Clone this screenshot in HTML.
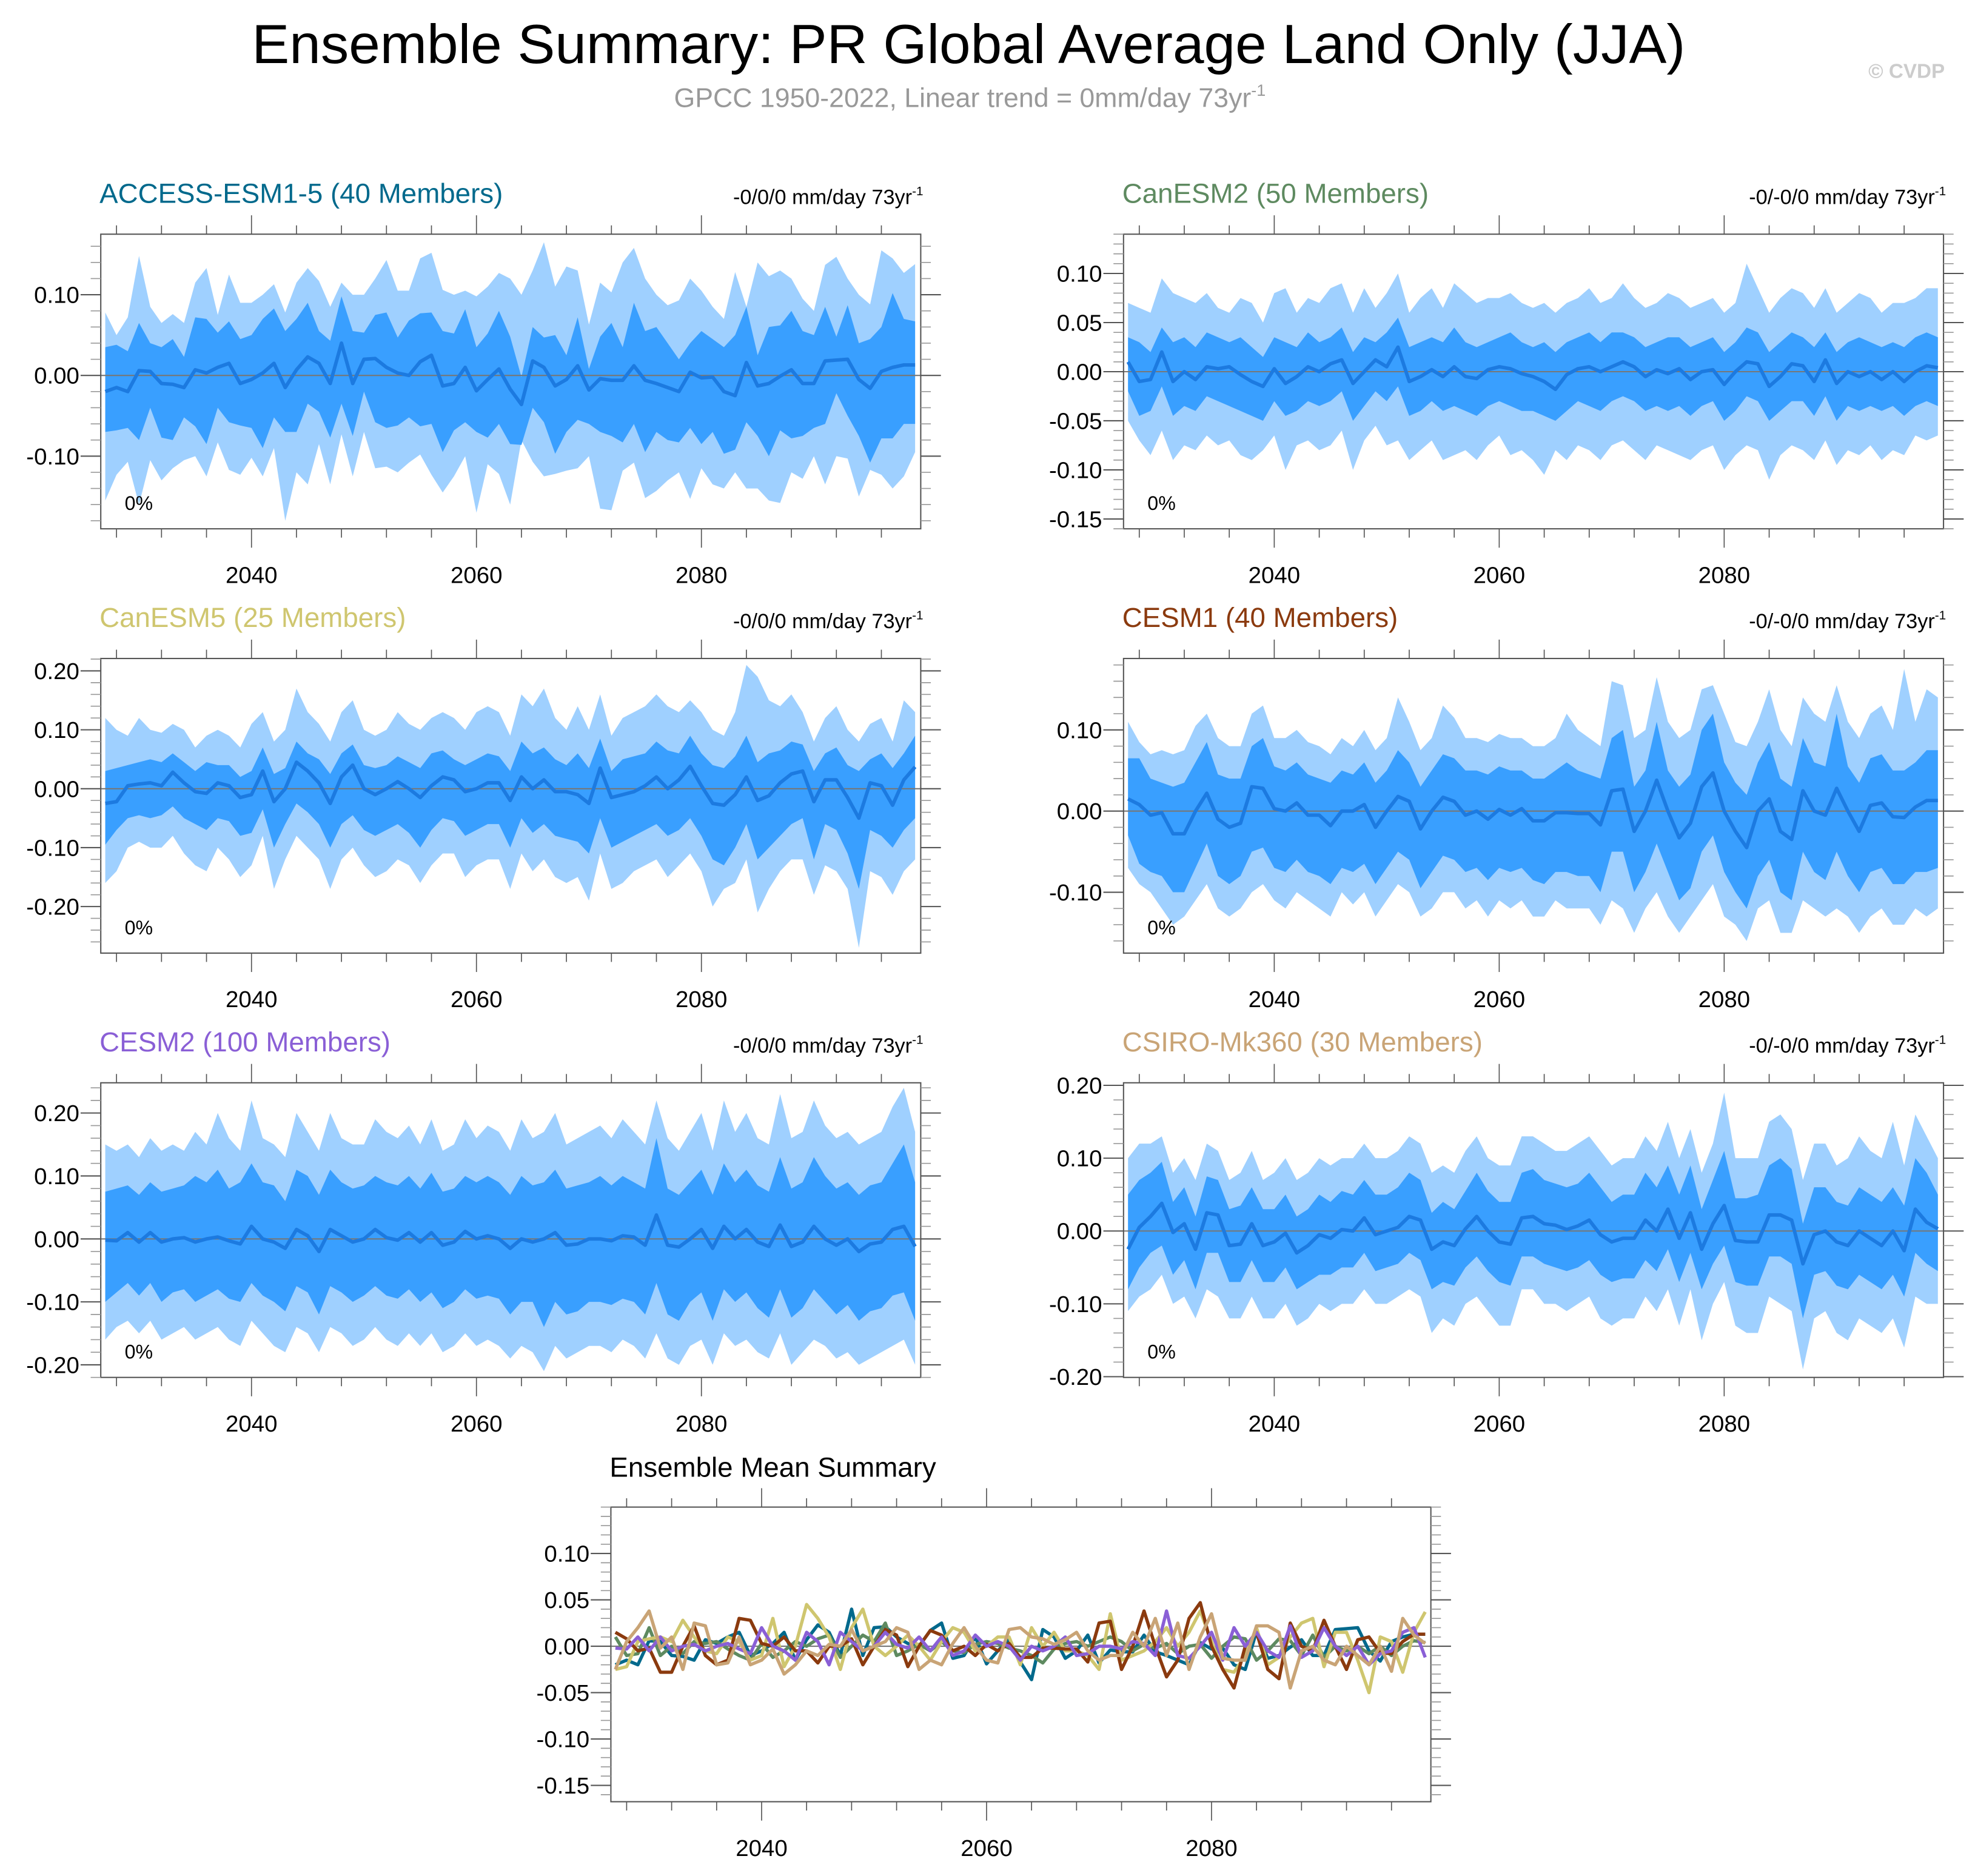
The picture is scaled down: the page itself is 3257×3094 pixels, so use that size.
<!DOCTYPE html>
<html><head><meta charset="utf-8"><style>
html,body{margin:0;padding:0;background:#fff;}
svg{display:block;font-family:"Liberation Sans",sans-serif;}
</style></head><body>
<svg id="chart" width="3257" height="3094" viewBox="0 0 1568 1490" preserveAspectRatio="none" xmlns="http://www.w3.org/2000/svg">
<text x="769" y="50" font-size="44" text-anchor="middle" fill="#000" textLength="1138" lengthAdjust="spacingAndGlyphs">Ensemble Summary: PR Global Average Land Only (JJA)</text>
<text x="770" y="85" font-size="21.5" text-anchor="middle" fill="#999">GPCC 1950-2022, Linear trend = 0mm/day 73yr<tspan dy="-9" font-size="13">-1</tspan></text>
<text x="1544" y="62" font-size="16" font-weight="bold" text-anchor="end" fill="#ccc">© CVDP</text>
<text x="484" y="1173" font-size="22" fill="#000">Ensemble Mean Summary</text>
</svg>
<script>
const years0 = 2027;
const accessMean=[-0.02,-0.015,-0.02,0.006,0.005,-0.01,-0.011,-0.015,0.007,0.003,0.01,0.015,-0.01,-0.005,0.003,0.015,-0.015,0.007,0.023,0.015,-0.01,0.04,-0.01,0.02,0.021,0.01,0.003,0,0.017,0.025,-0.013,-0.01,0.01,-0.019,-0.005,0.008,-0.017,-0.036,0.018,0.01,-0.013,-0.005,0.012,-0.018,-0.004,-0.006,-0.006,0.012,-0.006,-0.01,-0.015,-0.02,0.004,-0.003,-0.002,-0.02,-0.025,0.016,-0.013,-0.01,-0.001,0.007,-0.01,-0.01,0.018,0.019,0.02,-0.005,-0.016,0.005,0.01,0.013,0.013];
const accessInHi=[0.035,0.038,0.03,0.065,0.04,0.035,0.045,0.023,0.072,0.07,0.053,0.067,0.045,0.05,0.07,0.083,0.055,0.07,0.09,0.055,0.043,0.098,0.055,0.053,0.075,0.078,0.047,0.068,0.077,0.078,0.055,0.052,0.082,0.035,0.052,0.08,0.048,-0.002,0.06,0.047,0.05,0.025,0.072,0.008,0.048,0.065,0.035,0.09,0.055,0.06,0.04,0.02,0.04,0.055,0.045,0.035,0.05,0.085,0.025,0.06,0.062,0.08,0.055,0.05,0.085,0.048,0.087,0.04,0.045,0.06,0.102,0.07,0.067];
const accessInLo=[-0.07,-0.068,-0.065,-0.08,-0.04,-0.077,-0.08,-0.052,-0.063,-0.085,-0.04,-0.058,-0.062,-0.065,-0.09,-0.052,-0.07,-0.07,-0.035,-0.045,-0.077,-0.035,-0.075,-0.02,-0.058,-0.065,-0.062,-0.052,-0.063,-0.06,-0.095,-0.068,-0.058,-0.07,-0.077,-0.06,-0.085,-0.086,-0.04,-0.058,-0.097,-0.07,-0.055,-0.06,-0.07,-0.075,-0.083,-0.06,-0.095,-0.07,-0.08,-0.083,-0.065,-0.085,-0.07,-0.097,-0.092,-0.058,-0.075,-0.1,-0.068,-0.078,-0.075,-0.065,-0.06,-0.022,-0.05,-0.075,-0.108,-0.078,-0.078,-0.06,-0.06];
const accessOutHi=[0.078,0.05,0.072,0.148,0.085,0.065,0.076,0.065,0.115,0.133,0.075,0.125,0.09,0.09,0.1,0.113,0.078,0.115,0.133,0.117,0.085,0.115,0.1,0.1,0.12,0.143,0.105,0.105,0.145,0.152,0.106,0.1,0.105,0.098,0.11,0.127,0.12,0.1,0.13,0.165,0.11,0.135,0.13,0.063,0.115,0.103,0.14,0.158,0.12,0.1,0.087,0.093,0.12,0.105,0.085,0.07,0.128,0.085,0.14,0.123,0.13,0.12,0.095,0.08,0.137,0.147,0.12,0.1,0.088,0.155,0.145,0.127,0.138];
const accessOutLo=[-0.155,-0.123,-0.107,-0.16,-0.105,-0.13,-0.115,-0.105,-0.1,-0.125,-0.083,-0.117,-0.123,-0.102,-0.125,-0.09,-0.18,-0.12,-0.135,-0.085,-0.135,-0.073,-0.125,-0.07,-0.115,-0.113,-0.12,-0.108,-0.098,-0.123,-0.145,-0.125,-0.1,-0.17,-0.11,-0.122,-0.16,-0.08,-0.107,-0.125,-0.122,-0.118,-0.115,-0.1,-0.165,-0.167,-0.118,-0.108,-0.152,-0.143,-0.13,-0.12,-0.153,-0.115,-0.135,-0.14,-0.12,-0.14,-0.14,-0.155,-0.158,-0.12,-0.128,-0.1,-0.135,-0.1,-0.103,-0.15,-0.117,-0.123,-0.14,-0.125,-0.095];

const can2Mean=[0.01,-0.01,-0.008,0.02,-0.01,0.0,-0.008,0.005,0.003,0.005,-0.003,-0.01,-0.015,0.003,-0.012,-0.005,0.005,0.0,0.008,0.012,-0.012,0.0,0.012,0.005,0.025,-0.01,-0.005,0.002,-0.005,0.005,-0.005,-0.007,0.002,0.005,0.003,-0.002,-0.005,-0.01,-0.018,-0.003,0.003,0.005,0.0,0.005,0.01,0.005,-0.005,0.002,-0.002,0.003,-0.008,0.0,0.002,-0.013,0.0,0.01,0.008,-0.015,-0.005,0.008,0.006,-0.01,0.012,-0.012,0.0,-0.005,0.0,-0.008,0.0,-0.01,0.0,0.006,0.004];
const can2InHi=[0.035,0.03,0.02,0.045,0.03,0.035,0.025,0.04,0.035,0.03,0.035,0.025,0.015,0.035,0.03,0.025,0.04,0.03,0.035,0.045,0.02,0.035,0.03,0.04,0.055,0.025,0.03,0.035,0.03,0.045,0.03,0.025,0.03,0.035,0.04,0.03,0.025,0.03,0.02,0.03,0.035,0.04,0.03,0.04,0.04,0.035,0.025,0.03,0.035,0.035,0.025,0.03,0.035,0.02,0.03,0.045,0.04,0.02,0.03,0.04,0.035,0.025,0.04,0.02,0.03,0.035,0.03,0.025,0.03,0.025,0.035,0.04,0.035];
const can2InLo=[-0.02,-0.045,-0.04,-0.015,-0.045,-0.035,-0.04,-0.025,-0.03,-0.035,-0.04,-0.045,-0.05,-0.03,-0.045,-0.04,-0.03,-0.035,-0.03,-0.02,-0.05,-0.035,-0.02,-0.03,-0.015,-0.045,-0.04,-0.03,-0.04,-0.035,-0.04,-0.045,-0.035,-0.03,-0.035,-0.04,-0.04,-0.045,-0.05,-0.04,-0.03,-0.035,-0.04,-0.03,-0.025,-0.03,-0.04,-0.035,-0.04,-0.035,-0.045,-0.035,-0.03,-0.05,-0.04,-0.025,-0.03,-0.05,-0.04,-0.03,-0.03,-0.045,-0.025,-0.05,-0.035,-0.04,-0.035,-0.04,-0.035,-0.045,-0.035,-0.03,-0.035];
const can2OutHi=[0.07,0.065,0.06,0.095,0.08,0.075,0.07,0.08,0.065,0.06,0.075,0.07,0.05,0.08,0.085,0.06,0.075,0.07,0.085,0.09,0.06,0.085,0.065,0.08,0.1,0.06,0.075,0.085,0.065,0.09,0.08,0.07,0.075,0.075,0.08,0.07,0.065,0.07,0.06,0.07,0.075,0.085,0.07,0.075,0.09,0.075,0.065,0.07,0.08,0.075,0.065,0.07,0.075,0.06,0.07,0.11,0.085,0.06,0.075,0.085,0.08,0.065,0.085,0.06,0.07,0.08,0.075,0.06,0.07,0.07,0.075,0.085,0.085];
const can2OutLo=[-0.05,-0.07,-0.085,-0.06,-0.09,-0.075,-0.08,-0.065,-0.075,-0.07,-0.085,-0.09,-0.08,-0.065,-0.1,-0.075,-0.07,-0.08,-0.075,-0.06,-0.1,-0.07,-0.055,-0.075,-0.07,-0.09,-0.08,-0.07,-0.09,-0.085,-0.08,-0.09,-0.075,-0.065,-0.085,-0.08,-0.09,-0.105,-0.08,-0.09,-0.075,-0.08,-0.09,-0.075,-0.07,-0.08,-0.09,-0.075,-0.08,-0.085,-0.09,-0.08,-0.075,-0.1,-0.085,-0.075,-0.08,-0.11,-0.085,-0.075,-0.08,-0.09,-0.07,-0.095,-0.08,-0.085,-0.075,-0.09,-0.08,-0.085,-0.065,-0.07,-0.065];

const can5Mean=[-0.025,-0.022,0.005,0.008,0.01,0.005,0.028,0.01,-0.005,-0.008,0.01,0.005,-0.015,-0.01,0.03,-0.022,0.0,0.045,0.03,0.01,-0.025,0.02,0.04,0.0,-0.01,0.0,0.012,0.0,-0.015,0.005,0.02,0.015,-0.005,0.0,0.01,0.01,-0.02,0.02,0.0,0.015,-0.005,-0.005,-0.01,-0.025,0.035,-0.015,-0.01,-0.005,0.005,0.02,0.0,0.015,0.038,0.005,-0.025,-0.028,-0.01,0.02,-0.02,-0.012,0.01,0.025,0.03,-0.022,0.015,0.015,-0.015,-0.05,0.01,0.005,-0.028,0.015,0.037];
const can5InHi=[0.03,0.035,0.04,0.045,0.05,0.045,0.06,0.045,0.03,0.045,0.04,0.04,0.02,0.03,0.07,0.025,0.035,0.08,0.06,0.05,0.025,0.06,0.075,0.04,0.035,0.04,0.055,0.045,0.035,0.06,0.065,0.05,0.04,0.05,0.06,0.055,0.03,0.08,0.06,0.07,0.05,0.04,0.06,0.035,0.085,0.03,0.05,0.055,0.06,0.08,0.065,0.06,0.09,0.06,0.04,0.035,0.055,0.09,0.045,0.06,0.065,0.08,0.075,0.03,0.06,0.07,0.04,0.03,0.05,0.06,0.035,0.06,0.09];
const can5InLo=[-0.095,-0.07,-0.05,-0.045,-0.05,-0.045,-0.03,-0.05,-0.06,-0.07,-0.05,-0.055,-0.08,-0.075,-0.035,-0.1,-0.06,-0.025,-0.04,-0.06,-0.1,-0.06,-0.045,-0.07,-0.08,-0.07,-0.06,-0.075,-0.1,-0.07,-0.05,-0.055,-0.08,-0.07,-0.06,-0.06,-0.1,-0.05,-0.075,-0.06,-0.08,-0.085,-0.09,-0.11,-0.05,-0.1,-0.09,-0.08,-0.07,-0.06,-0.08,-0.07,-0.05,-0.08,-0.12,-0.13,-0.1,-0.06,-0.12,-0.1,-0.08,-0.06,-0.05,-0.12,-0.06,-0.07,-0.11,-0.17,-0.07,-0.08,-0.1,-0.07,-0.05];
const can5OutHi=[0.12,0.1,0.09,0.12,0.1,0.095,0.11,0.1,0.07,0.09,0.1,0.09,0.07,0.11,0.13,0.08,0.1,0.17,0.13,0.11,0.08,0.13,0.15,0.1,0.09,0.1,0.13,0.11,0.1,0.12,0.13,0.12,0.1,0.13,0.14,0.13,0.09,0.16,0.14,0.17,0.12,0.1,0.14,0.1,0.16,0.09,0.12,0.13,0.14,0.16,0.14,0.13,0.15,0.13,0.1,0.09,0.13,0.21,0.19,0.15,0.14,0.16,0.13,0.08,0.12,0.14,0.1,0.08,0.11,0.12,0.08,0.15,0.13];
const can5OutLo=[-0.16,-0.14,-0.1,-0.09,-0.1,-0.1,-0.08,-0.11,-0.13,-0.14,-0.1,-0.12,-0.15,-0.13,-0.08,-0.17,-0.12,-0.08,-0.1,-0.12,-0.17,-0.12,-0.1,-0.13,-0.15,-0.14,-0.12,-0.13,-0.16,-0.13,-0.11,-0.11,-0.15,-0.13,-0.12,-0.12,-0.17,-0.11,-0.14,-0.12,-0.15,-0.16,-0.15,-0.19,-0.11,-0.17,-0.16,-0.14,-0.13,-0.12,-0.15,-0.13,-0.11,-0.14,-0.2,-0.17,-0.16,-0.12,-0.21,-0.17,-0.14,-0.12,-0.12,-0.18,-0.13,-0.14,-0.17,-0.27,-0.14,-0.15,-0.18,-0.14,-0.12];

const cesm1Mean=[0.015,0.008,-0.005,-0.002,-0.028,-0.028,0.0,0.022,-0.01,-0.02,-0.015,0.03,0.028,0.003,0.0,0.01,-0.005,-0.005,-0.018,0.0,0.0,0.008,-0.02,0.0,0.018,0.012,-0.022,0.0,0.017,0.012,-0.005,0.0,-0.01,0.002,-0.005,0.003,-0.012,-0.012,-0.002,-0.002,-0.003,-0.003,-0.017,0.025,0.027,-0.025,0.0,0.038,0.0,-0.033,-0.015,0.03,0.047,0.0,-0.025,-0.045,0.0,0.015,-0.025,-0.035,0.025,0.0,-0.005,0.028,0.0,-0.025,0.007,0.01,-0.007,-0.008,0.005,0.013,0.013];
const cesm1InHi=[0.065,0.065,0.04,0.035,0.03,0.035,0.06,0.085,0.045,0.04,0.04,0.08,0.09,0.055,0.05,0.06,0.045,0.04,0.035,0.05,0.045,0.06,0.035,0.05,0.075,0.06,0.03,0.05,0.07,0.065,0.05,0.05,0.045,0.055,0.05,0.05,0.04,0.04,0.05,0.06,0.05,0.045,0.04,0.09,0.1,0.03,0.05,0.11,0.05,0.03,0.045,0.1,0.12,0.06,0.035,0.02,0.06,0.085,0.04,0.03,0.09,0.06,0.055,0.12,0.055,0.035,0.065,0.07,0.05,0.05,0.06,0.075,0.075];
const cesm1InLo=[-0.03,-0.065,-0.075,-0.08,-0.1,-0.1,-0.07,-0.04,-0.08,-0.09,-0.08,-0.05,-0.045,-0.07,-0.075,-0.06,-0.075,-0.08,-0.09,-0.07,-0.075,-0.065,-0.09,-0.07,-0.05,-0.06,-0.095,-0.075,-0.055,-0.06,-0.075,-0.07,-0.085,-0.07,-0.075,-0.07,-0.085,-0.09,-0.075,-0.075,-0.08,-0.08,-0.1,-0.05,-0.05,-0.1,-0.075,-0.04,-0.075,-0.11,-0.095,-0.05,-0.03,-0.075,-0.1,-0.12,-0.08,-0.06,-0.1,-0.11,-0.05,-0.075,-0.085,-0.05,-0.08,-0.1,-0.075,-0.07,-0.09,-0.09,-0.075,-0.075,-0.07];
const cesm1OutHi=[0.11,0.085,0.07,0.075,0.07,0.075,0.105,0.12,0.09,0.08,0.08,0.12,0.13,0.09,0.09,0.1,0.085,0.08,0.07,0.09,0.08,0.1,0.075,0.09,0.14,0.11,0.075,0.09,0.13,0.115,0.09,0.09,0.085,0.095,0.09,0.09,0.08,0.08,0.09,0.12,0.1,0.09,0.08,0.16,0.155,0.09,0.1,0.165,0.11,0.09,0.1,0.15,0.155,0.12,0.085,0.08,0.11,0.15,0.1,0.08,0.14,0.12,0.11,0.155,0.11,0.09,0.12,0.13,0.1,0.175,0.11,0.15,0.14];
const cesm1OutLo=[-0.07,-0.09,-0.1,-0.12,-0.14,-0.13,-0.11,-0.09,-0.12,-0.13,-0.12,-0.1,-0.09,-0.11,-0.12,-0.1,-0.11,-0.12,-0.13,-0.1,-0.115,-0.1,-0.13,-0.11,-0.09,-0.1,-0.13,-0.12,-0.1,-0.1,-0.12,-0.11,-0.13,-0.11,-0.12,-0.11,-0.13,-0.13,-0.11,-0.12,-0.12,-0.12,-0.14,-0.11,-0.12,-0.15,-0.12,-0.1,-0.13,-0.15,-0.13,-0.11,-0.09,-0.13,-0.14,-0.16,-0.12,-0.11,-0.15,-0.15,-0.11,-0.12,-0.13,-0.12,-0.13,-0.15,-0.13,-0.12,-0.14,-0.14,-0.12,-0.13,-0.12];

const cesm2Mean=[-0.002,-0.003,0.01,-0.005,0.01,-0.005,0.0,0.002,-0.005,0.0,0.003,-0.003,-0.008,0.02,0.0,-0.005,-0.015,0.015,0.005,-0.02,0.015,0.005,-0.005,0.0,0.015,0.002,-0.002,0.01,-0.005,0.01,-0.01,-0.005,0.012,0.0,0.005,0.0,-0.015,0.0,-0.005,0.0,0.01,-0.01,-0.008,0.0,0.0,-0.003,0.005,0.003,-0.01,0.038,-0.01,-0.013,0.0,0.015,-0.015,0.02,0.0,0.015,-0.005,-0.012,0.022,-0.012,-0.005,0.02,0.0,-0.01,0.0,-0.02,-0.008,-0.005,0.015,0.02,-0.012];
const cesm2InHi=[0.075,0.08,0.085,0.07,0.09,0.075,0.08,0.085,0.1,0.09,0.11,0.08,0.09,0.12,0.09,0.085,0.06,0.11,0.1,0.07,0.11,0.09,0.08,0.085,0.1,0.09,0.085,0.1,0.08,0.105,0.075,0.08,0.1,0.09,0.1,0.09,0.07,0.1,0.085,0.09,0.11,0.08,0.085,0.09,0.1,0.085,0.1,0.09,0.08,0.16,0.08,0.07,0.09,0.11,0.07,0.12,0.09,0.11,0.085,0.075,0.13,0.08,0.09,0.13,0.1,0.08,0.09,0.07,0.085,0.09,0.12,0.15,0.09];
const cesm2InLo=[-0.1,-0.085,-0.07,-0.09,-0.07,-0.1,-0.085,-0.08,-0.1,-0.09,-0.08,-0.095,-0.1,-0.07,-0.09,-0.1,-0.115,-0.075,-0.085,-0.12,-0.075,-0.085,-0.1,-0.09,-0.075,-0.09,-0.095,-0.08,-0.1,-0.085,-0.11,-0.1,-0.08,-0.095,-0.09,-0.095,-0.12,-0.1,-0.1,-0.14,-0.1,-0.12,-0.115,-0.1,-0.1,-0.105,-0.095,-0.1,-0.12,-0.07,-0.12,-0.13,-0.1,-0.085,-0.13,-0.08,-0.1,-0.085,-0.11,-0.125,-0.08,-0.125,-0.11,-0.08,-0.1,-0.12,-0.105,-0.13,-0.115,-0.11,-0.09,-0.085,-0.13];
const cesm2OutHi=[0.15,0.14,0.15,0.13,0.16,0.14,0.15,0.14,0.17,0.15,0.2,0.16,0.14,0.22,0.16,0.15,0.13,0.2,0.17,0.14,0.2,0.16,0.15,0.15,0.19,0.17,0.16,0.18,0.15,0.19,0.14,0.15,0.19,0.16,0.18,0.17,0.14,0.19,0.16,0.17,0.2,0.15,0.16,0.17,0.18,0.16,0.19,0.17,0.15,0.22,0.16,0.14,0.17,0.2,0.14,0.22,0.17,0.2,0.16,0.15,0.23,0.16,0.17,0.22,0.18,0.16,0.17,0.15,0.16,0.17,0.21,0.24,0.17];
const cesm2OutLo=[-0.16,-0.14,-0.13,-0.15,-0.13,-0.16,-0.15,-0.14,-0.16,-0.15,-0.14,-0.16,-0.17,-0.13,-0.15,-0.17,-0.18,-0.14,-0.15,-0.18,-0.14,-0.15,-0.17,-0.16,-0.14,-0.16,-0.17,-0.15,-0.17,-0.15,-0.18,-0.17,-0.15,-0.17,-0.16,-0.17,-0.19,-0.17,-0.18,-0.21,-0.17,-0.19,-0.18,-0.17,-0.17,-0.18,-0.16,-0.17,-0.19,-0.15,-0.19,-0.2,-0.17,-0.16,-0.2,-0.15,-0.17,-0.16,-0.18,-0.19,-0.15,-0.2,-0.18,-0.16,-0.17,-0.19,-0.18,-0.2,-0.19,-0.18,-0.17,-0.16,-0.2];

const csiroMean=[-0.025,0.005,0.02,0.038,-0.002,0.01,-0.025,0.025,0.022,-0.02,-0.018,0.01,-0.02,-0.015,-0.003,-0.03,-0.02,-0.005,-0.01,0.002,0.0,0.018,-0.005,0.0,0.005,0.02,0.015,-0.025,-0.015,-0.02,0.003,0.02,0.0,-0.015,-0.018,0.018,0.02,0.01,0.008,0.002,0.007,0.015,-0.005,-0.015,-0.01,-0.01,0.015,0.0,0.03,-0.01,0.025,-0.025,0.01,0.035,-0.013,-0.015,-0.015,0.022,0.022,0.015,-0.045,-0.005,0.0,-0.015,-0.02,0.0,-0.01,-0.02,0.0,-0.027,0.03,0.012,0.003];
const csiroInHi=[0.05,0.07,0.08,0.095,0.04,0.06,0.02,0.075,0.07,0.03,0.035,0.06,0.03,0.03,0.05,0.02,0.03,0.05,0.04,0.055,0.05,0.07,0.05,0.05,0.06,0.08,0.07,0.025,0.04,0.03,0.055,0.08,0.055,0.04,0.04,0.08,0.085,0.07,0.065,0.06,0.065,0.08,0.06,0.04,0.05,0.05,0.08,0.06,0.09,0.05,0.09,0.03,0.07,0.11,0.045,0.045,0.05,0.09,0.1,0.085,0.01,0.06,0.06,0.04,0.035,0.06,0.05,0.04,0.06,0.035,0.1,0.08,0.05];
const csiroInLo=[-0.08,-0.05,-0.03,-0.02,-0.06,-0.04,-0.08,-0.03,-0.03,-0.07,-0.07,-0.04,-0.07,-0.07,-0.05,-0.08,-0.07,-0.06,-0.06,-0.05,-0.05,-0.03,-0.055,-0.05,-0.045,-0.03,-0.04,-0.08,-0.07,-0.075,-0.05,-0.035,-0.055,-0.07,-0.075,-0.035,-0.035,-0.045,-0.05,-0.055,-0.05,-0.04,-0.06,-0.07,-0.065,-0.065,-0.04,-0.055,-0.025,-0.07,-0.03,-0.08,-0.045,-0.02,-0.07,-0.075,-0.075,-0.035,-0.035,-0.045,-0.12,-0.06,-0.055,-0.075,-0.08,-0.06,-0.07,-0.08,-0.06,-0.09,-0.03,-0.045,-0.055];
const csiroOutHi=[0.1,0.12,0.12,0.13,0.08,0.1,0.07,0.12,0.11,0.07,0.08,0.11,0.07,0.08,0.1,0.07,0.08,0.1,0.09,0.1,0.1,0.12,0.1,0.1,0.11,0.13,0.12,0.08,0.09,0.08,0.11,0.13,0.1,0.09,0.09,0.13,0.13,0.12,0.11,0.11,0.12,0.13,0.11,0.09,0.1,0.1,0.13,0.11,0.15,0.1,0.14,0.08,0.12,0.19,0.1,0.1,0.1,0.15,0.16,0.14,0.07,0.12,0.12,0.09,0.1,0.13,0.11,0.1,0.15,0.09,0.16,0.13,0.1];
const csiroOutLo=[-0.11,-0.09,-0.08,-0.06,-0.1,-0.09,-0.12,-0.08,-0.09,-0.12,-0.12,-0.09,-0.12,-0.12,-0.1,-0.13,-0.12,-0.1,-0.11,-0.1,-0.1,-0.08,-0.1,-0.1,-0.09,-0.08,-0.09,-0.14,-0.12,-0.13,-0.1,-0.09,-0.11,-0.13,-0.13,-0.08,-0.08,-0.1,-0.1,-0.11,-0.1,-0.09,-0.12,-0.13,-0.12,-0.12,-0.09,-0.11,-0.08,-0.13,-0.08,-0.15,-0.1,-0.07,-0.13,-0.14,-0.14,-0.09,-0.1,-0.11,-0.19,-0.12,-0.11,-0.14,-0.15,-0.12,-0.13,-0.14,-0.12,-0.16,-0.09,-0.1,-0.1];

const NS='http://www.w3.org/2000/svg';
const svg=document.getElementById('chart');
const XMIN=2026.6, XMAX=2099.5, W=651, H=234;
function mk(tag,attrs,parent){const e=document.createElementNS(NS,tag);for(const k in attrs)e.setAttribute(k,attrs[k]);(parent||svg).appendChild(e);return e;}

const panels=[
 {key:'access-esm1-5',title:'ACCESS-ESM1-5 (40 Members)',color:'#00698c',x0:80,y0:186,ymin:-0.19,ymax:0.175,major:[-0.1,0,0.1],minor:0.02,trend:'-0/0/0',mean:accessMean,inHi:accessInHi,inLo:accessInLo,outHi:accessOutHi,outLo:accessOutLo},
 {key:'canesm2',title:'CanESM2 (50 Members)',color:'#5e8a60',x0:892,y0:186,ymin:-0.16,ymax:0.14,major:[-0.15,-0.1,-0.05,0,0.05,0.1],minor:0.01,trend:'-0/-0/0',mean:can2Mean,inHi:can2InHi,inLo:can2InLo,outHi:can2OutHi,outLo:can2OutLo},
 {key:'canesm5',title:'CanESM5 (25 Members)',color:'#cfc66f',x0:80,y0:523,ymin:-0.279,ymax:0.221,major:[-0.2,-0.1,0,0.1,0.2],minor:0.02,trend:'-0/0/0',mean:can5Mean,inHi:can5InHi,inLo:can5InLo,outHi:can5OutHi,outLo:can5OutLo},
 {key:'cesm1',title:'CESM1 (40 Members)',color:'#8b3a0e',x0:892,y0:523,ymin:-0.175,ymax:0.188,major:[-0.1,0,0.1],minor:0.02,trend:'-0/-0/0',mean:cesm1Mean,inHi:cesm1InHi,inLo:cesm1InLo,outHi:cesm1OutHi,outLo:cesm1OutLo},
 {key:'cesm2',title:'CESM2 (100 Members)',color:'#8a5fd6',x0:80,y0:860,ymin:-0.22,ymax:0.248,major:[-0.2,-0.1,0,0.1,0.2],minor:0.02,trend:'-0/0/0',mean:cesm2Mean,inHi:cesm2InHi,inLo:cesm2InLo,outHi:cesm2OutHi,outLo:cesm2OutLo},
 {key:'csiro-mk360',title:'CSIRO-Mk360 (30 Members)',color:'#c9a476',x0:892,y0:860,ymin:-0.201,ymax:0.2035,major:[-0.2,-0.1,0,0.1,0.2],minor:0.02,trend:'-0/-0/0',mean:csiroMean,inHi:csiroInHi,inLo:csiroInLo,outHi:csiroOutHi,outLo:csiroOutLo}
];

function axes(p){
 const xs=y=>p.x0+(y-XMIN)/(XMAX-XMIN)*W;
 const ys=v=>p.y0+(p.ymax-v)/(p.ymax-p.ymin)*H;
 return {xs,ys};
}
function drawFrame(p,g,xs,ys){
 const bx=mk('rect',{x:p.x0,y:p.y0,width:W,height:H,fill:'none',stroke:'#555','stroke-width':1},g);
 
 
 for(let yr=2028;yr<=2099;yr+=4){
  const isMaj=(yr%20===0);const L=isMaj?15:7;const x=xs(yr);
  mk('line',{x1:x,x2:x,y1:p.y0,y2:p.y0-L,stroke:'#555','stroke-width':0.8},g);
  mk('line',{x1:x,x2:x,y1:p.y0+H,y2:p.y0+H+L,stroke:'#555','stroke-width':0.8},g);
  if(isMaj){const t=mk('text',{x:x,y:p.y0+H+43,'font-size':18.5,'text-anchor':'middle',fill:'#000'},g);t.textContent=yr;
   
   }
 }
 const n0=Math.ceil(p.ymin/p.minor-1e-6), n1=Math.floor(p.ymax/p.minor+1e-6);
 for(let n=n0;n<=n1;n++){
  const v=n*p.minor;const isMaj=p.major.some(m=>Math.abs(m-v)<1e-6);const L=isMaj?16:8;const y=ys(v);
  mk('line',{x1:p.x0,x2:p.x0-L,y1:y,y2:y,stroke:isMaj?'#555':'#999','stroke-width':isMaj?1:0.8},g);
  mk('line',{x1:p.x0+W,x2:p.x0+W+L,y1:y,y2:y,stroke:isMaj?'#555':'#999','stroke-width':isMaj?1:0.8},g);
 }
 p.major.forEach(v=>{const t=mk('text',{x:p.x0-17,y:ys(v)+6.5,'font-size':18.5,'text-anchor':'end',fill:'#000'},g);t.textContent=v.toFixed(2).replace('-0.00','0.00');
  
  });
}
function band(hi,lo,xs,ys,fill,g,name){
 let d='';hi.forEach((v,i)=>{d+=(i?'L':'M')+xs(years0+i).toFixed(2)+','+ys(v).toFixed(2);});
 for(let i=lo.length-1;i>=0;i--)d+='L'+xs(years0+i).toFixed(2)+','+ys(lo[i]).toFixed(2);
 const e=mk('path',{d:d+'Z',fill:fill},g);
 
 
}
function line(arr,xs,ys,color,w,g,name){
 const pts=arr.map((v,i)=>xs(years0+i).toFixed(2)+','+ys(v).toFixed(2)).join(' ');
 const e=mk('polyline',{points:pts,fill:'none',stroke:color,'stroke-width':w,'stroke-linejoin':'round'},g);
 
 
}

panels.forEach(p=>{
 const g=mk('g',{});
 
 
 const {xs,ys}=axes(p);
 band(p.outHi,p.outLo,xs,ys,'#9fd0ff',g,'outer-range-band');
 band(p.inHi,p.inLo,xs,ys,'#399fff',g,'inner-range-band');
 mk('line',{x1:p.x0,x2:p.x0+W,y1:ys(0),y2:ys(0),stroke:'#777','stroke-width':1},g);
 line(p.mean,xs,ys,'#1c7ae0',2.8,g,'ensemble-mean-line');
 drawFrame(p,g,xs,ys);
 const t=mk('text',{x:p.x0-1,y:p.y0-25,'font-size':22,fill:p.color},g);t.textContent=p.title;
 
 
 const r=mk('text',{x:p.x0+W+2,y:p.y0-24,'font-size':16.5,'text-anchor':'end',fill:'#000'},g);
 r.innerHTML=p.trend+' mm/day 73yr<tspan dy="-7" font-size="10">-1</tspan>';
 
 
 const pc=mk('text',{x:p.x0+19,y:p.y0+219,'font-size':15.5,fill:'#000'},g);pc.textContent='0%';
 
 
});

// Ensemble mean summary
const bp={x0:485,y0:1197,ymin:-0.1676,ymax:0.15,major:[-0.15,-0.1,-0.05,0,0.05,0.1],minor:0.01};
const bg=mk('g',{});


const bax=axes(bp);
mk('line',{x1:bp.x0,x2:bp.x0+W,y1:bax.ys(0),y2:bax.ys(0),stroke:'#777','stroke-width':1},bg);
panels.forEach(p=>line(p.mean,bax.xs,bax.ys,p.color,2.6,bg,'mean-line-'+p.key));
drawFrame(bp,bg,bax.xs,bax.ys);
</script>
</body></html>
